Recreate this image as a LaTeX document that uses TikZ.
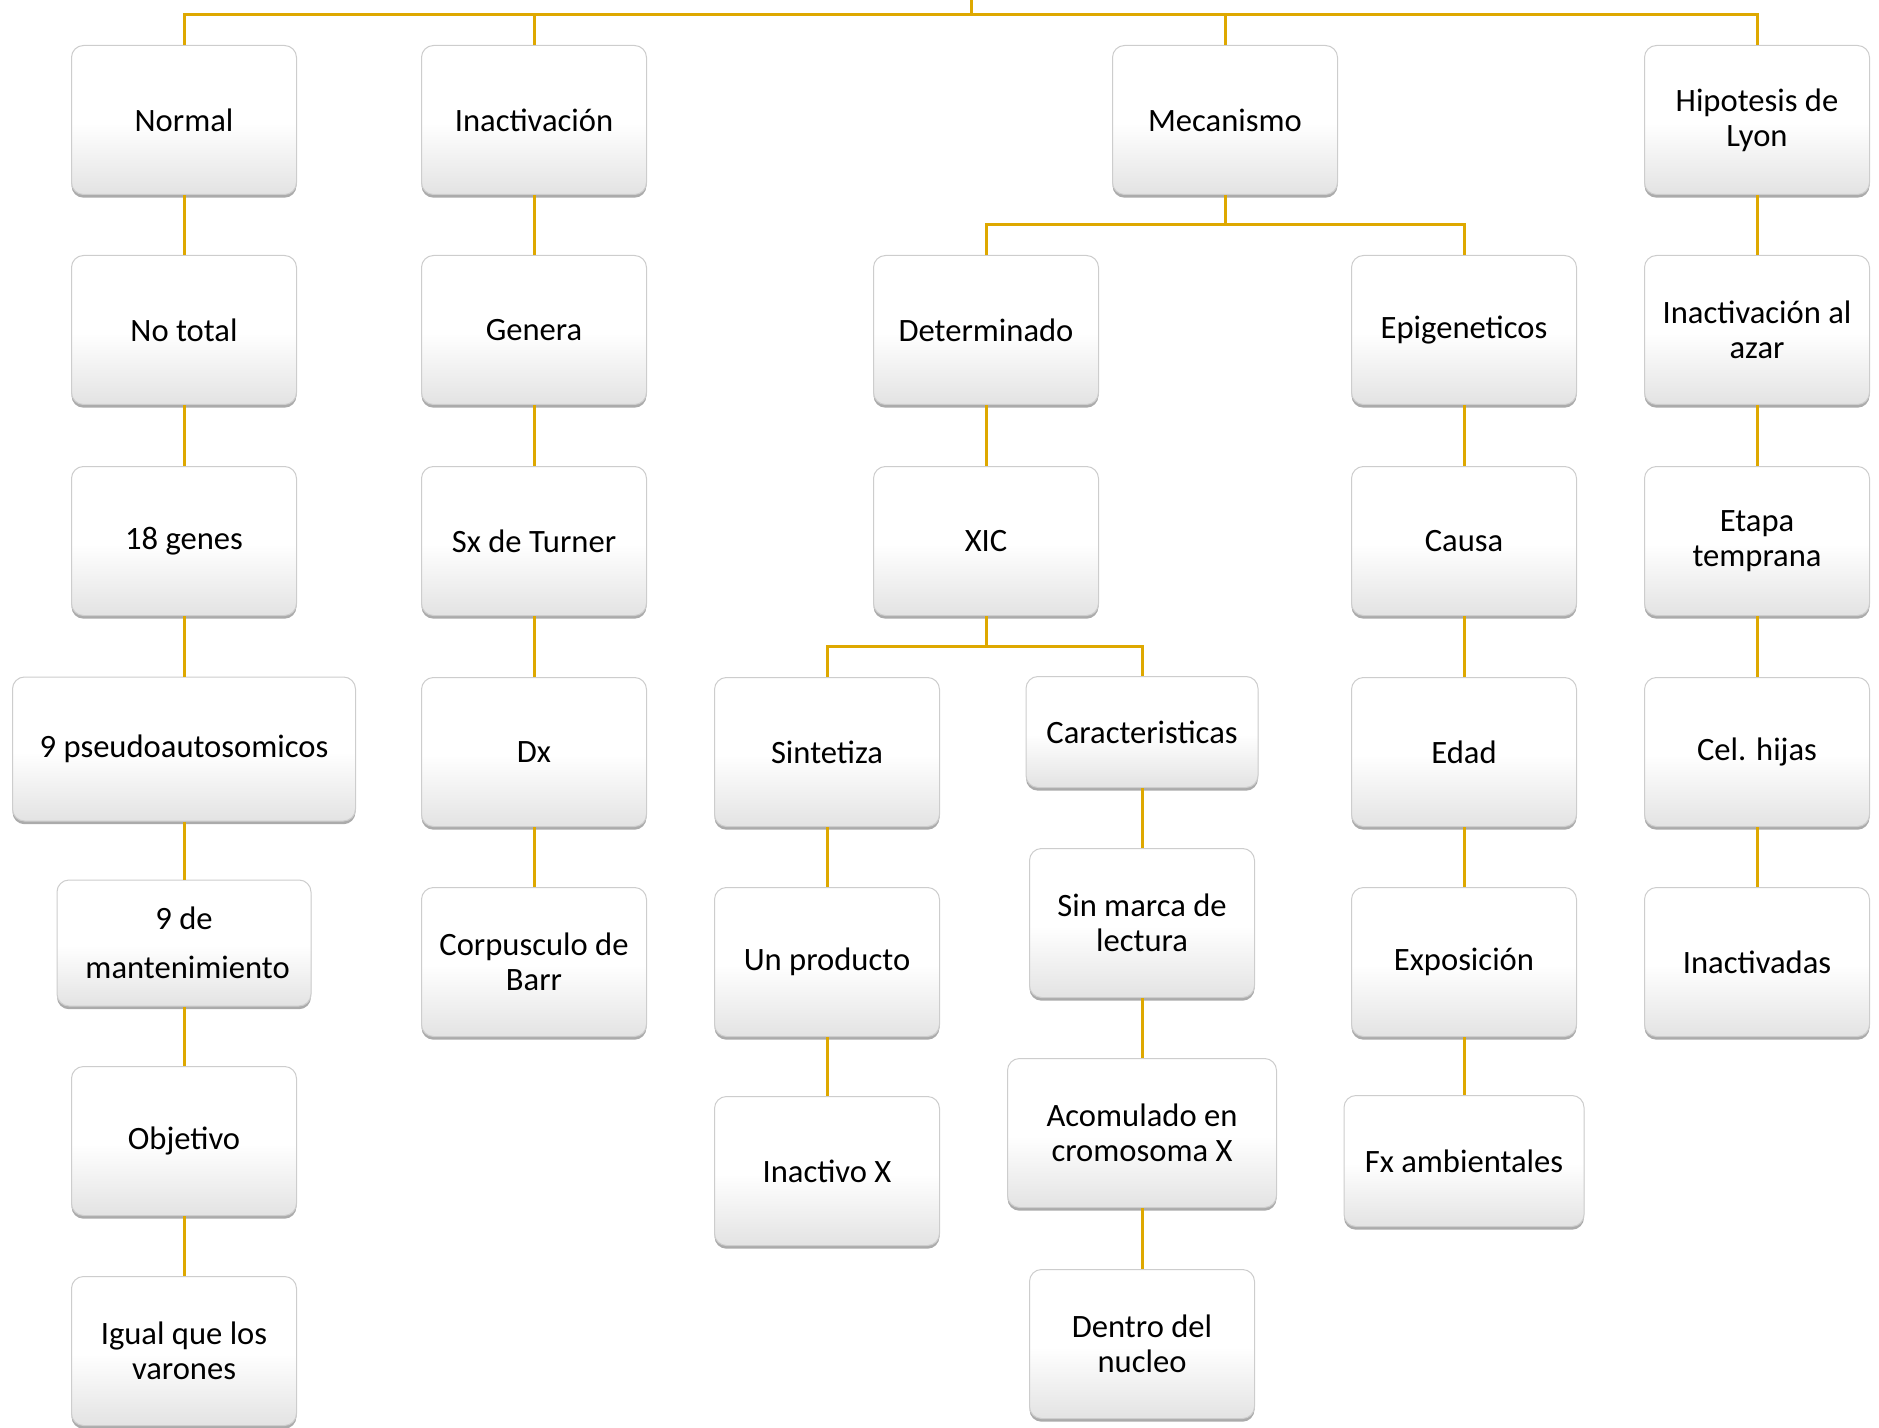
\documentclass[tikz,border=0pt]{standalone}
\usepackage{fontspec}
\setmainfont{Carlito}
\usetikzlibrary{shadows,calc}
\definecolor{linegold}{RGB}{222,168,0}
\definecolor{boxborder}{RGB}{205,205,205}
\pgfdeclareverticalshading{boxshade}{100bp}{color(0bp)=(black!11); color(25bp)=(black!11); color(49bp)=(white); color(100bp)=(white)}
\tikzset{
  bx/.style={rectangle, rounded corners=6pt, draw=boxborder, line width=0.5pt,
    shading=boxshade,
    drop shadow={shadow xshift=0pt, shadow yshift=-1.6pt, fill=black!55, opacity=.6},
    minimum width=112.5pt, minimum height=74.5pt, align=center, inner sep=2pt,
    font=\fontsize{16.3}{17.5}\selectfont},
  conn/.style={draw=linegold, line width=1.5pt}
}
\begin{document}
\begin{tikzpicture}[x=0.5pt,y=-0.5pt]
\useasboundingbox (0,0) rectangle (1879,1428);
% column A
\node[bx] (A1) at (184,120) {Normal};
\node[bx] (A2) at (184,330) {No total};
\node[bx] (A3) at (184,541) {18 genes};
\node[bx, minimum width=171.5pt, minimum height=72pt] (A4) at (184,749) {9 pseudoautosomicos};
\node[bx, minimum width=127pt, minimum height=63pt] (A5) at (184,943) {9 de\\[7pt]\hspace*{3.6pt}mantenimiento};
\node[bx] (A6) at (184,1141) {Objetivo};
\node[bx] (A7) at (184,1351) {Igual que los\\varones};
% column B
\node[bx] (B1) at (534,120) {Inactivación};
\node[bx] (B2) at (534,330) {Genera};
\node[bx] (B3) at (534,541) {Sx de Turner};
\node[bx] (B4) at (534,752) {Dx};
\node[bx] (B5) at (534,962) {Corpusculo de\\Barr};
% column C
\node[bx] (C1) at (1225,120) {Mecanismo};
\node[bx] (C2) at (986,330) {Determinado};
\node[bx] (C3) at (986,541) {XIC};
\node[bx] (C4) at (827,752) {Sintetiza};
\node[bx] (C5) at (827,962) {Un producto};
\node[bx] (C6) at (827,1171) {Inactivo X};
\node[bx, minimum width=116pt, minimum height=55.5pt] (D4) at (1142,732) {Caracteristicas};
\node[bx] (D5) at (1142,923) {Sin marca de\\lectura};
\node[bx, minimum width=134.5pt] (D6) at (1142,1133) {Acomulado en\\cromosoma X};
\node[bx] (D7) at (1142,1344) {Dentro del\\nucleo};
\node[bx] (E2) at (1464,330) {Epigeneticos};
\node[bx] (E3) at (1464,541) {Causa};
\node[bx] (E4) at (1464,752) {Edad};
\node[bx] (E5) at (1464,962) {Exposición};
\node[bx, minimum width=120pt, minimum height=65.5pt] (E6) at (1464,1161) {Fx ambientales};
% column F
\node[bx] (F1) at (1757,120) {Hipotesis de\\Lyon};
\node[bx] (F2) at (1757,330) {Inactivación al\\azar};
\node[bx] (F3) at (1757,541) {Etapa\\temprana};
\node[bx] (F4) at (1757,752) {Cel. hijas};
\node[bx] (F5) at (1757,962) {Inactivadas};
% connectors
\coordinate (root) at (971,0);
\coordinate (bus) at (971,15);
\draw[conn] (root) -- (bus);
\draw[conn] (A1.north) |- (bus) -| (F1.north);
\draw[conn] (B1.north) -- (B1.north |- bus);
\draw[conn] (C1.north) -- (C1.north |- bus);
\coordinate (m1) at ($(C1.south)!.5!(C1.south |- C2.north)$);
\draw[conn] (C1.south) -- (m1);
\draw[conn] (C2.north) |- (m1) -| (E2.north);
\coordinate (m2) at ($(C3.south)!.5!(C3.south |- C4.north)$);
\draw[conn] (C3.south) -- (m2);
\draw[conn] (C4.north) |- (m2) -| (D4.north);
\foreach \a/\b in {A1/A2,A2/A3,A3/A4,A4/A5,A5/A6,A6/A7,
  B1/B2,B2/B3,B3/B4,B4/B5,
  C2/C3,C4/C5,C5/C6,D4/D5,D5/D6,D6/D7,
  E2/E3,E3/E4,E4/E5,E5/E6,
  F1/F2,F2/F3,F3/F4,F4/F5}
  \draw[conn] (\a.south) -- (\b.north);
\end{tikzpicture}
\end{document}
